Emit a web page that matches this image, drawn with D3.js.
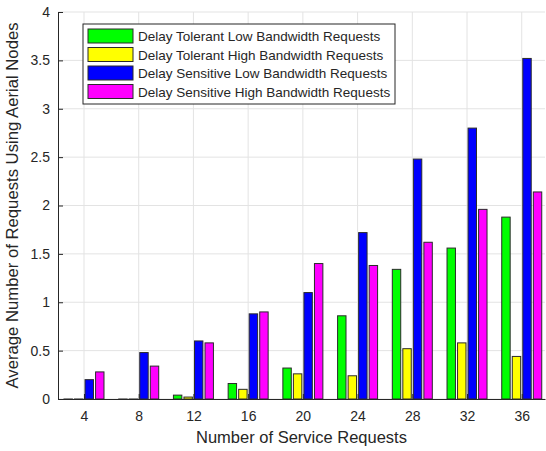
<!DOCTYPE html>
<html>
<head>
<meta charset="utf-8">
<script src="https://cdn.jsdelivr.net/npm/d3@7"></script>
<style>
  body { margin: 0; background: #fff; }
  text { font-family: "Liberation Sans", Arial, sans-serif; fill: #262626; }
</style>
</head>
<body>
<div id="chart"></div>
<script>
// data
const requests = [4, 8, 12, 16, 20, 24, 28, 32, 36]
const seriesNames = [
  "Delay Tolerant Low Bandwidth Requests",
  "Delay Tolerant High Bandwidth Requests",
  "Delay Sensitive Low Bandwidth Requests",
  "Delay Sensitive High Bandwidth Requests"
]
const seriesColors = ["#00ff00", "#ffff00", "#0000ff", "#ff00ff"]
const tolerantLow = [0, 0, 0.04, 0.16, 0.32, 0.86, 1.34, 1.56, 1.88]
const tolerantHigh = [0, 0, 0.02, 0.10, 0.26, 0.24, 0.52, 0.58, 0.44]
const sensitiveLow = [0.20, 0.48, 0.60, 0.88, 1.10, 1.72, 2.48, 2.80, 3.52]
const sensitiveHigh = [0.28, 0.34, 0.58, 0.90, 1.40, 1.38, 1.62, 1.96, 2.14]
const yTicks = [0, 0.5, 1, 1.5, 2, 2.5, 3, 3.5, 4]

const allSeries = [tolerantLow, tolerantHigh, sensitiveLow, sensitiveHigh]

var W = 546, H = 451
var margin = {top: 12, right: 1, bottom: 52, left: 58}
var width = W - margin.left - margin.right,
    height = H - margin.top - margin.bottom

var svg = d3.select("#chart").append("svg")
  .attr("width", W).attr("height", H)
  .append("g")
  .attr("transform", "translate(" + margin.left + "," + margin.top + ")")

var x = d3.scaleLinear().domain([2.1, 37.7]).range([0, width])
var y = d3.scaleLinear().domain([0, 4]).range([height, 0])
var inner = d3.scaleBand().domain(d3.range(4)).range([-20, 20]).paddingInner(0.2)

// grid
svg.append("g").selectAll("line").data(yTicks).enter().append("line")
  .attr("x1", 0).attr("x2", width)
  .attr("y1", d => y(d)).attr("y2", d => y(d))
  .attr("stroke", "#e3e3e3")
svg.append("g").selectAll("line").data(requests).enter().append("line")
  .attr("x1", d => x(d)).attr("x2", d => x(d))
  .attr("y1", 0).attr("y2", height)
  .attr("stroke", "#e3e3e3")

// bars (zero values still show their edge on the baseline, like matlab)
allSeries.forEach(function(vals, s) {
  svg.append("g").selectAll("rect").data(vals).enter().append("rect")
    .attr("x", (d, i) => x(requests[i]) + inner(s))
    .attr("y", d => y(d))
    .attr("width", inner.bandwidth())
    .attr("height", d => Math.max(height - y(d), 0.01))
    .attr("fill", seriesColors[s])
    .attr("stroke", "#2b2b2b")
    .attr("stroke-width", 1)
})

// axes
var xAxis = svg.append("g")
  .attr("transform", "translate(0," + height + ")")
  .call(d3.axisBottom(x).tickValues(requests).tickSizeInner(-5).tickSizeOuter(0).tickPadding(12))
var yAxis = svg.append("g")
  .call(d3.axisLeft(y).tickValues(yTicks).tickFormat(d3.format("")).tickSizeInner(-5).tickSizeOuter(0).tickPadding(8))
;[xAxis, yAxis].forEach(function(a) {
  a.select(".domain").attr("stroke", "#262626")
  a.selectAll(".tick line").attr("stroke", "#262626")
  a.selectAll(".tick text").style("font-size", "14px").attr("fill", "#262626")
})

// axis labels
svg.append("text")
  .attr("x", width / 2).attr("y", height + 44)
  .attr("text-anchor", "middle").style("font-size", "16.5px")
  .text("Number of Service Requests")
svg.append("text")
  .attr("transform", "translate(" + (-40) + "," + (height / 2) + ") rotate(-90)")
  .attr("text-anchor", "middle").style("font-size", "16.7px")
  .text("Average Number of Requests Using Aerial Nodes")

// legend
var legend = svg.append("g").attr("transform", "translate(25,12)")
legend.append("rect")
  .attr("width", 312).attr("height", 80)
  .attr("fill", "#fff").attr("stroke", "#262626")
var rows = legend.selectAll(".row").data(seriesNames).enter().append("g")
  .attr("transform", (d, i) => "translate(5," + (5 + i * 18.5) + ")")
rows.append("rect")
  .attr("width", 45).attr("height", 14)
  .attr("fill", (d, i) => seriesColors[i])
  .attr("stroke", "#2b2b2b")
rows.append("text")
  .attr("x", 50).attr("y", 12)
  .style("font-size", "13.5px")
  .text(d => d)
</script>
</body>
</html>
